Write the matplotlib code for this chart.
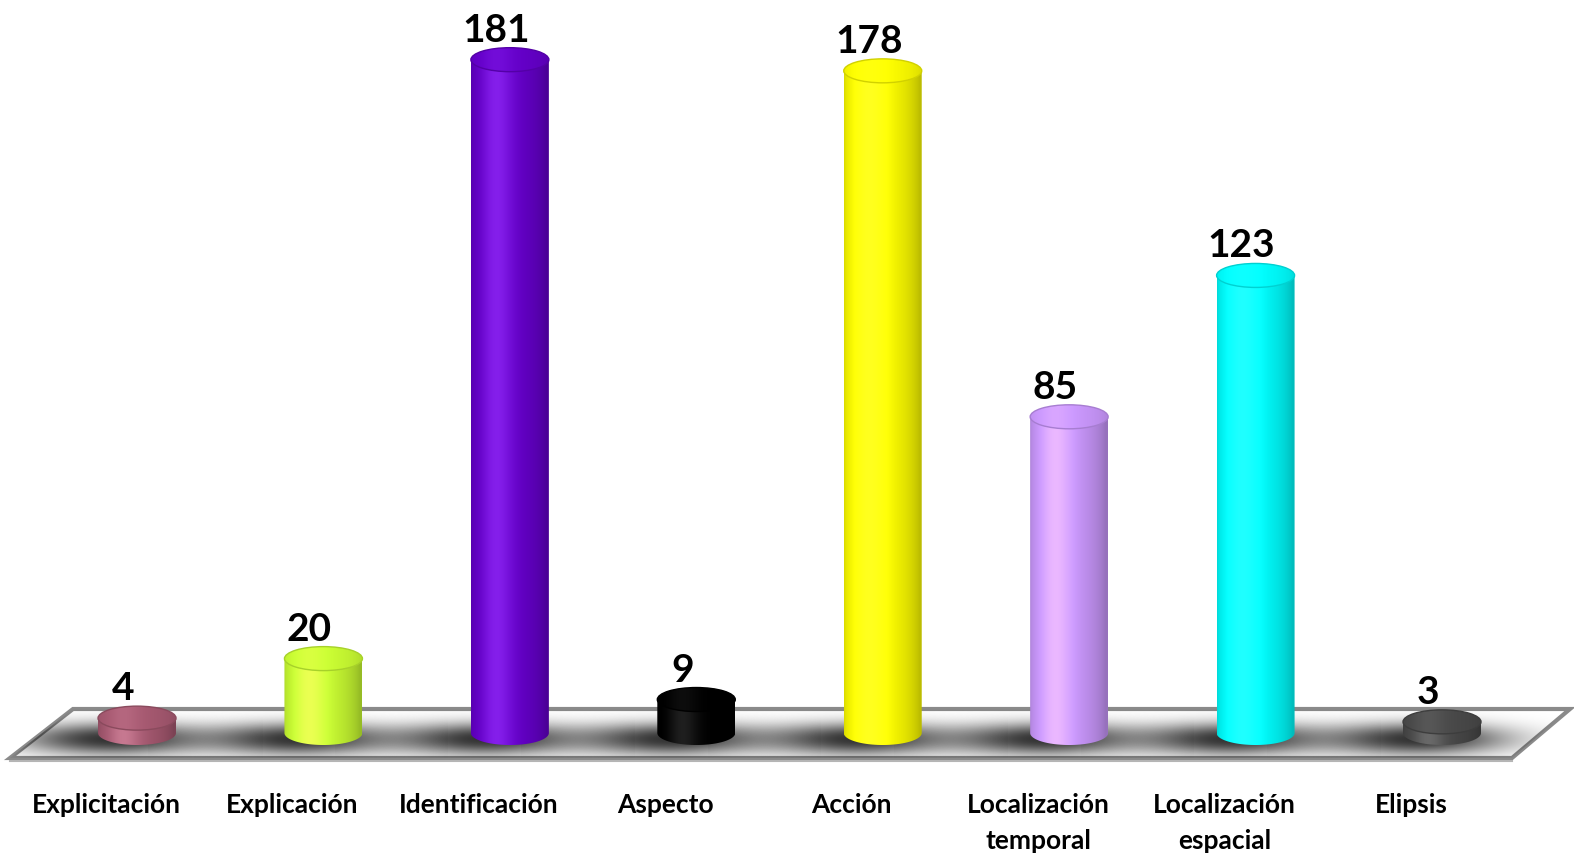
import numpy as np
import matplotlib
matplotlib.use("Agg")
import matplotlib.pyplot as plt
from matplotlib.patches import Polygon, Ellipse

plt.rcParams["font.family"] = ["Lato", "DejaVu Sans"]

categories = ["Explicitación", "Explicación", "Identificación", "Aspecto",
              "Acción", "Localización\ntemporal", "Localización\nespacial", "Elipsis"]
values = [4, 20, 181, 9, 178, 85, 123, 3]
colors = ["#a85a72", "#ccff33", "#6600cc", "#000000",
          "#ffff00", "#cc99ff", "#00ffff", "#4a4a4a"]

W, H = 1574, 857
fig = plt.figure(figsize=(W / 100, H / 100), dpi=100)
ax = fig.add_axes([0, 0, 1, 1])
ax.axis("off")
xlim = (-0.735, 7.708)
ylim = (-33.33, 197.04)
px_x = W / (xlim[1] - xlim[0])   # pixels per category
px_y = H / (ylim[1] - ylim[0])   # pixels per unit of value

# floor plane, drawn in axes fraction
floor_px = [(10, 758), (1512, 758), (1570, 709), (73, 709)]
floor = Polygon([(x / W, 1 - y / H) for x, y in floor_px], closed=True,
                transform=ax.transAxes, fc="white", ec="#8a8a8a", lw=3, zorder=1)
ax.add_patch(floor)
ax.plot([10 / W, 1512 / W], [1 - 761 / H, 1 - 761 / H], transform=ax.transAxes,
        color="#b5b5b5", lw=1.5, zorder=1)

w = 39 / px_x      # cylinder radius in x units
h = 12 / px_y      # ellipse half-height in value units


def shade(color, n=256, top=False):
    base = np.array(matplotlib.colors.to_rgb(color))
    t = np.linspace(-0.999, 0.999, n)
    theta = np.arcsin(t)
    diff = np.clip(np.cos(theta + 0.35), 0, 1)
    spec = diff ** 12
    if top:
        rgb = base[None, :] * (0.88 + 0.12 * diff[:, None]) + 0.05 * spec[:, None]
    else:
        rgb = base[None, :] * (0.74 + 0.26 * diff[:, None]) + 0.12 * spec[:, None]
    return np.clip(rgb, 0, 1)


def ellipse_pts(cx, cy, a, b, t0, t1, n=80):
    t = np.linspace(t0, t1, n)
    return np.column_stack([cx + a * np.cos(t), cy + b * np.sin(t)])


# soft shadows on the floor
yy, xx = np.mgrid[-1:1:120j, -1:1:300j]
for i, v in enumerate(values):
    sx, sy = 150 / px_x, 30 / px_y
    cx = i - 25 / px_x
    r2 = (xx * 150 / 92) ** 2 + (yy * 30 / 16) ** 2
    alpha = 0.8 * np.exp(-r2 ** 1.1)
    img = np.zeros((120, 300, 4))
    img[..., 3] = alpha
    im = ax.imshow(img, extent=(cx - sx, cx + sx, -sy - 1.5, sy - 1.5),
                   aspect="auto", zorder=2, interpolation="bilinear")
    im.set_clip_path(floor)

# cylinders
for i, (v, c) in enumerate(zip(values, colors)):
    body = np.vstack([[(i - w, v)], ellipse_pts(i, 0, w, h, np.pi, 2 * np.pi), [(i + w, v)]])
    clip = Polygon(body, closed=True, fc="none", ec="none", transform=ax.transData)
    ax.add_patch(clip)
    im = ax.imshow(shade(c)[None, :, :], extent=(i - w, i + w, -h, v),
                   aspect="auto", zorder=3, interpolation="bilinear")
    im.set_clip_path(clip)
    top = Ellipse((i, v), 2 * w, 2 * h, fc="none", ec="none")
    ax.add_patch(top)
    im2 = ax.imshow(shade(c, top=True)[None, :, :], extent=(i - w, i + w, v - h, v + h),
                    aspect="auto", zorder=4, interpolation="bilinear")
    im2.set_clip_path(top)
    rim = np.array(matplotlib.colors.to_rgb(c)) * 0.82
    ax.add_patch(Ellipse((i, v), 2 * w, 2 * h, fc="none", ec=rim, lw=1.0, zorder=5))

    ax.text(i - 14 / px_x, v + h + 6 / px_y, str(v), ha="center", va="baseline",
            fontsize=28, fontweight="bold", color="black", zorder=6)

for i, lab in enumerate(categories):
    ax.text(i - 31 / px_x, (H - 793) / px_y + ylim[0], lab, ha="center", va="top",
            fontsize=19, fontweight="bold", color="black", linespacing=1.6)

ax.set_xlim(*xlim)
ax.set_ylim(*ylim)
fig.savefig("out.png", dpi=100, facecolor="white")
